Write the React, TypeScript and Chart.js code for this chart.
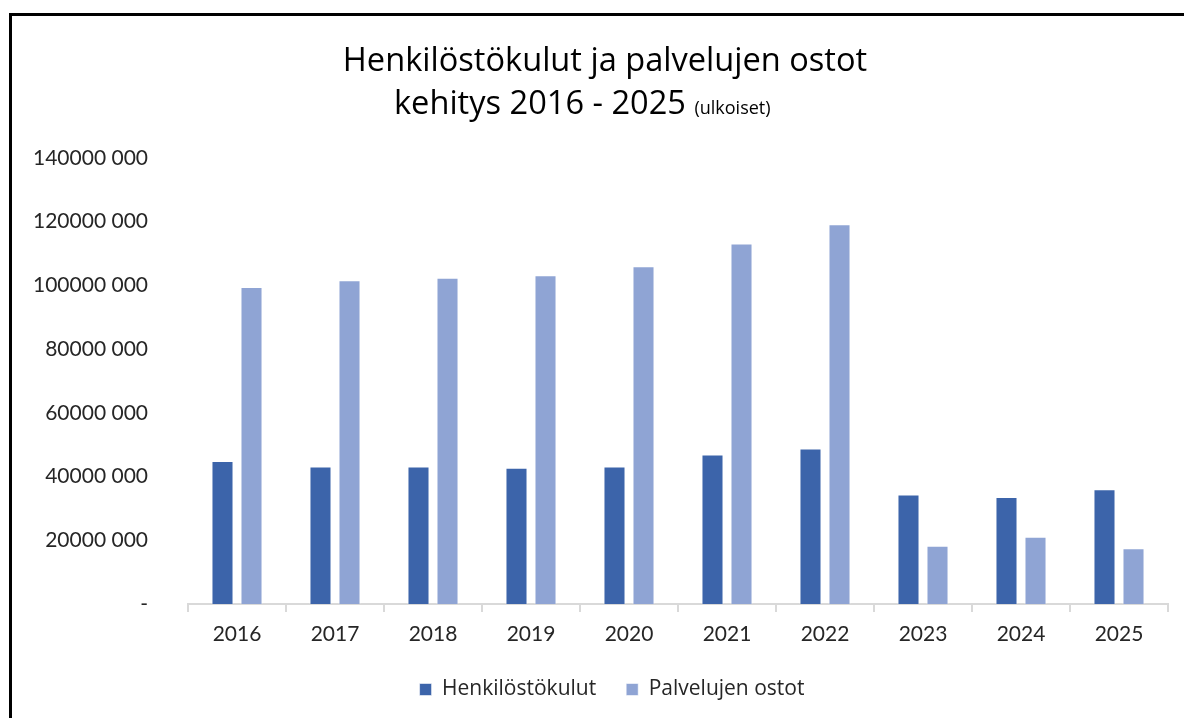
import React, { useEffect, useRef } from "react";
import { Chart, registerables } from "chart.js";

Chart.register(...registerables);

const CATEGORIES = ["2016", "2017", "2018", "2019", "2020", "2021", "2022", "2023", "2024", "2025"];
const HENKILOSTOKULUT = [44900000, 43200000, 43200000, 42800000, 43200000, 46900000, 48800000, 34400000, 33600000, 36000000];
const PALVELUJEN_OSTOT = [99500000, 101600000, 102400000, 103200000, 106000000, 113200000, 119200000, 18300000, 21100000, 17500000];
const Y_TICK_VALUES = [0, 20000000, 40000000, 60000000, 80000000, 100000000, 120000000, 140000000];
const Y_TICK_LABELS = ["-", "20000 000", "40000 000", "60000 000", "80000 000", "100000 000", "120000 000", "140000 000"];
const SERIES_NAMES = ["Henkilöstökulut", "Palvelujen ostot"];
const TITLE_LINE_1 = "Henkilöstökulut ja palvelujen ostot";
const TITLE_LINE_2 = "kehitys 2016 - 2025";
const TITLE_SUFFIX = "(ulkoiset)";

const TICK_FONT = "Lato, 'Open Sans', sans-serif";
const TEXT_FONT = "'Open Sans', Lato, sans-serif";
const TEXT_COLOR = "#262626";

const legendShift = {
  id: "legendShift",
  afterLayout(chart: any) {
    if (chart.legend) {
      chart.legend.left += 56;
    }
  },
};

export default function App() {
  const canvasRef = useRef<HTMLCanvasElement | null>(null);

  useEffect(() => {
    const canvas = canvasRef.current;
    if (!canvas) return;
    const chart = new Chart(canvas, {
      type: "bar",
      data: {
        labels: CATEGORIES,
        datasets: [
          {
            label: SERIES_NAMES[0],
            data: HENKILOSTOKULUT,
            backgroundColor: "#3C64AA",
            borderColor: "rgba(255,255,255,0.55)",
            borderWidth: 1,
            categoryPercentage: 0.592,
            barPercentage: 0.76,
          },
          {
            label: SERIES_NAMES[1],
            data: PALVELUJEN_OSTOT,
            backgroundColor: "#8FA4D4",
            borderColor: "rgba(255,255,255,0.55)",
            borderWidth: 1,
            categoryPercentage: 0.592,
            barPercentage: 0.76,
          },
        ],
      },
      plugins: [legendShift],
      options: {
        responsive: false,
        animation: false,
        layout: { padding: { top: 158, right: 16, bottom: 8, left: 0 } },
        plugins: {
          title: { display: false },
          tooltip: { enabled: false },
          legend: {
            display: true,
            position: "bottom",
            labels: {
              boxWidth: 12,
              boxHeight: 12,
              padding: 30,
              color: TEXT_COLOR,
              font: { family: TEXT_FONT, size: 21 },
            },
          },
        },
        scales: {
          x: {
            offset: true,
            grid: {
              display: true,
              offset: true,
              drawOnChartArea: false,
              drawTicks: true,
              tickLength: 8,
              color: "#D9D9D9",
              lineWidth: 2,
            },
            border: { display: true, color: "#D9D9D9", width: 2 },
            ticks: {
              color: TEXT_COLOR,
              padding: 10,
              font: { family: TICK_FONT, size: 21 },
              maxRotation: 0,
            },
            afterFit: (scale: any) => {
              scale.height = 45;
            },
          },
          y: {
            min: 0,
            max: 140000000,
            grid: { display: false, drawTicks: false },
            border: { display: false },
            afterBuildTicks: (scale: any) => {
              scale.ticks = Y_TICK_VALUES.map((v) => ({ value: v }));
            },
            ticks: {
              color: TEXT_COLOR,
              padding: 40,
              font: { family: TICK_FONT, size: 21 },
              callback: (value: any) => {
                const i = Y_TICK_VALUES.indexOf(Number(value));
                return i >= 0 ? Y_TICK_LABELS[i] : "";
              },
            },
            afterFit: (scale: any) => {
              scale.width = 188;
            },
          },
        },
      },
    });
    return () => chart.destroy();
  }, []);

  return (
    <div style={{ position: "fixed", left: 0, top: 0, width: 1184, height: 718, background: "#fff", overflow: "hidden" }}>
      <div
        style={{
          position: "absolute",
          left: 9,
          top: 13,
          width: 1300,
          height: 800,
          borderLeft: "3px solid #000",
          borderTop: "3px solid #000",
          boxSizing: "border-box",
        }}
      />
      <canvas ref={canvasRef} width={1184} height={718} style={{ position: "absolute", left: 0, top: 0, width: 1184, height: 718 }} />
      <div
        style={{
          position: "absolute",
          left: 0,
          top: 43,
          width: 1210,
          textAlign: "center",
          fontFamily: TEXT_FONT,
          fontSize: 32.6,
          lineHeight: "1",
          color: "#000",
          whiteSpace: "nowrap",
        }}
      >
        {TITLE_LINE_1}
      </div>
      <div
        style={{
          position: "absolute",
          left: 394,
          top: 86,
          fontFamily: TEXT_FONT,
          fontSize: 32.6,
          lineHeight: "1",
          color: "#000",
          whiteSpace: "nowrap",
        }}
      >
        {TITLE_LINE_2} <span style={{ fontSize: 18 }}>{TITLE_SUFFIX}</span>
      </div>
    </div>
  );
}
